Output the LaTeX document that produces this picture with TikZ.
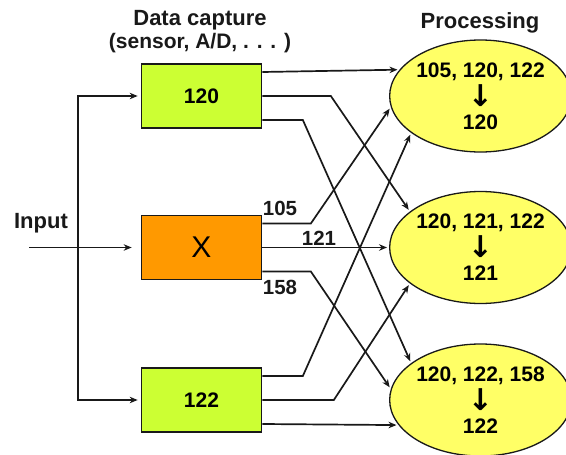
\documentclass[tikz,border=0pt]{standalone}
\usepackage{fontspec}
\setmainfont{Liberation Sans}
\newfontfamily\arrowfont{DejaVu Sans}
\usetikzlibrary{shapes.geometric,arrows.meta,calc}
\definecolor{boxgreen}{RGB}{204,255,51}
\definecolor{boxorange}{RGB}{255,153,0}
\definecolor{ellyellow}{RGB}{255,255,102}
\definecolor{ink}{RGB}{25,25,25}
\newcommand{\dnarrow}{{\arrowfont\bfseries\fontsize{30}{26}\selectfont\smash{\raisebox{-3pt}{↓}}}}
\begin{document}
\begin{tikzpicture}[x=1pt,y=-1pt,
 capbox/.style={draw=ink,line width=1.7pt,minimum width=120pt,minimum height=64pt,inner sep=0pt,font=\fontsize{21}{24}\selectfont\bfseries},
 proc/.style={ellipse,draw=ink,line width=1.3pt,fill=ellyellow,minimum width=165pt,minimum height=112pt,inner sep=0pt,align=center,font=\fontsize{21}{26}\selectfont\bfseries},
 wire/.style={draw=ink,line width=1.7pt},
 arr/.style={wire,-{Stealth[length=8pt,width=6.5pt]},shorten >=2pt},
 lbl/.style={font=\fontsize{20.5}{24}\selectfont\bfseries,text=ink,inner sep=0pt},
 ttl/.style={font=\fontsize{22}{24}\selectfont\bfseries,text=ink,inner sep=0pt}]
\useasboundingbox (0,0) rectangle (566,455);
% titles
\node[ttl] (t1) at (200,20) {Data capture};
\node[ttl,font=\fontsize{21}{24}\selectfont\bfseries] (t2) at (200,43) {(sensor, A/D, . . . )};
\node[ttl] (t3) at (480,23) {Processing};
\node[ttl] (tin) at (41,223) {Input};
% boxes
\node[capbox,fill=boxgreen] (b1) at (201.5,96) {120};
\node[capbox,fill=boxorange,font=\fontsize{30}{32}\selectfont] (x) at (201.5,247.5) {X};
\node[capbox,fill=boxgreen] (b3) at (201.5,400) {122};
% ellipses
\node[proc] (e1) at (480.5,96) {105, 120, 122\\\dnarrow\\120};
\node[proc] (e2) at (480.5,247.5) {120, 121, 122\\\dnarrow\\121};
\node[proc] (e3) at (480.5,400) {120, 122, 158\\\dnarrow\\122};
% input
\coordinate (inp) at (29,247.5);
\coordinate (jn) at (77.7,247.5);
\draw[arr,shorten >=9pt] (inp) -- (x.west);
\draw[arr,shorten >=3pt] (jn) |- (b1.west);
\draw[arr,shorten >=3pt] (jn) |- (b3.west);
% from top box
\draw[arr] ($(b1.east)+(0,-24)$) -- (e1.162);
\draw[arr] (b1.east) -- ++(68.5,0) -- (e2.153);
\draw[arr] ($(b1.east)+(0,24)$) -- ++(40.5,0) -- (e3.152);
% from X
\draw[arr] ($(x.east)+(0,-24)$) -- ++(48.5,0) -- (e1.187.5);
\draw[arr] (x.east) -- (e2.180);
\draw[arr] ($(x.east)+(0,24)$) -- ++(48.5,0) -- (e3.173);
% from bottom box
\draw[arr] ($(b3.east)+(0,-24)$) -- ++(40.5,0) -- (e1.208);
\draw[arr] (b3.east) -- ++(71.5,0) -- (e2.207.7);
\draw[arr] ($(b3.east)+(0,24)$) -- (e3.197);
% labels
\node[lbl] (l105) at (280,208) {105};
\node[lbl] (l121) at (319,238) {121};
\node[lbl] (l158) at (280,287) {158};
\end{tikzpicture}
\end{document}
